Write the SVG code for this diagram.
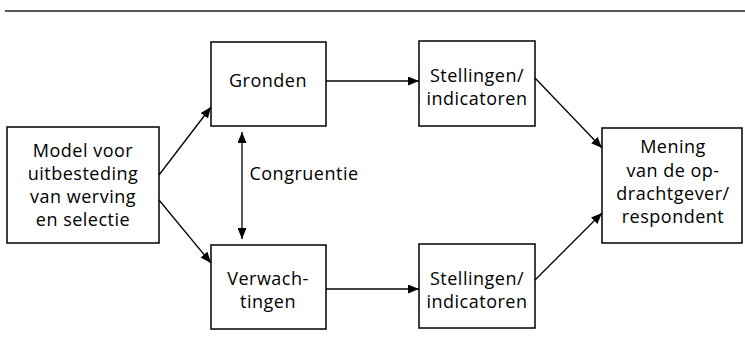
<svg xmlns="http://www.w3.org/2000/svg" width="745" height="351" viewBox="0 0 745 351">
<style>
.box{fill:#fff;stroke:#000;stroke-width:1.5}
.t{font-family:"Open Sans","DejaVu Sans",sans-serif;font-size:18px;letter-spacing:0.5px;fill:#000;text-anchor:middle}
.c{stroke:#000;stroke-width:1.3;fill:none}
</style>
<defs>
<marker id="ah" viewBox="0 0 11 9" refX="11" refY="4.5" markerWidth="11" markerHeight="9" markerUnits="userSpaceOnUse" orient="auto-start-reverse">
<path d="M0,0 L11,4.5 L0,9 Z" fill="#000"/>
</marker>
</defs>
<line x1="5" y1="11" x2="745" y2="11" stroke="#555" stroke-width="2"/>
<g id="model"><rect class="box" x="7" y="127" width="152" height="116"/>
<text class="t" x="83" y="157">Model voor</text><text class="t" x="83" y="180">uitbesteding</text><text class="t" x="83" y="203">van werving</text><text class="t" x="83" y="226">en selectie</text></g>
<g id="gronden"><rect class="box" x="211" y="42" width="115" height="84"/><text class="t" x="268" y="87">Gronden</text></g>
<g id="verwachtingen"><rect class="box" x="211" y="245" width="115" height="84"/><text class="t" x="268" y="285">Verwach-</text><text class="t" x="268" y="308">tingen</text></g>
<g id="stel1"><rect class="box" x="419" y="41" width="116" height="85"/><text class="t" x="477" y="82">Stellingen/</text><text class="t" x="477" y="105">indicatoren</text></g>
<g id="stel2"><rect class="box" x="419" y="244" width="116" height="84"/><text class="t" x="477" y="285">Stellingen/</text><text class="t" x="477" y="308">indicatoren</text></g>
<g id="mening"><rect class="box" x="602" y="128" width="140" height="115"/><text class="t" x="673" y="153">Mening</text><text class="t" x="673" y="177">van de op-</text><text class="t" x="673" y="200">drachtgever/</text><text class="t" x="673" y="223">respondent</text></g>
<g id="connectors">
<line class="c" x1="159" y1="175" x2="211" y2="107" marker-end="url(#ah)"/>
<line class="c" x1="159" y1="200" x2="211" y2="263" marker-end="url(#ah)"/>
<line class="c" x1="242" y1="132" x2="242" y2="239" marker-start="url(#ah)" marker-end="url(#ah)"/>
<line class="c" x1="326" y1="81" x2="419" y2="81" marker-end="url(#ah)"/>
<line class="c" x1="326" y1="289" x2="419" y2="289" marker-end="url(#ah)"/>
<line class="c" x1="535" y1="78" x2="602" y2="148" marker-end="url(#ah)"/>
<line class="c" x1="535" y1="280" x2="602" y2="213" marker-end="url(#ah)"/>
<text class="t" x="304" y="180">Congruentie</text>
</g>
</svg>
